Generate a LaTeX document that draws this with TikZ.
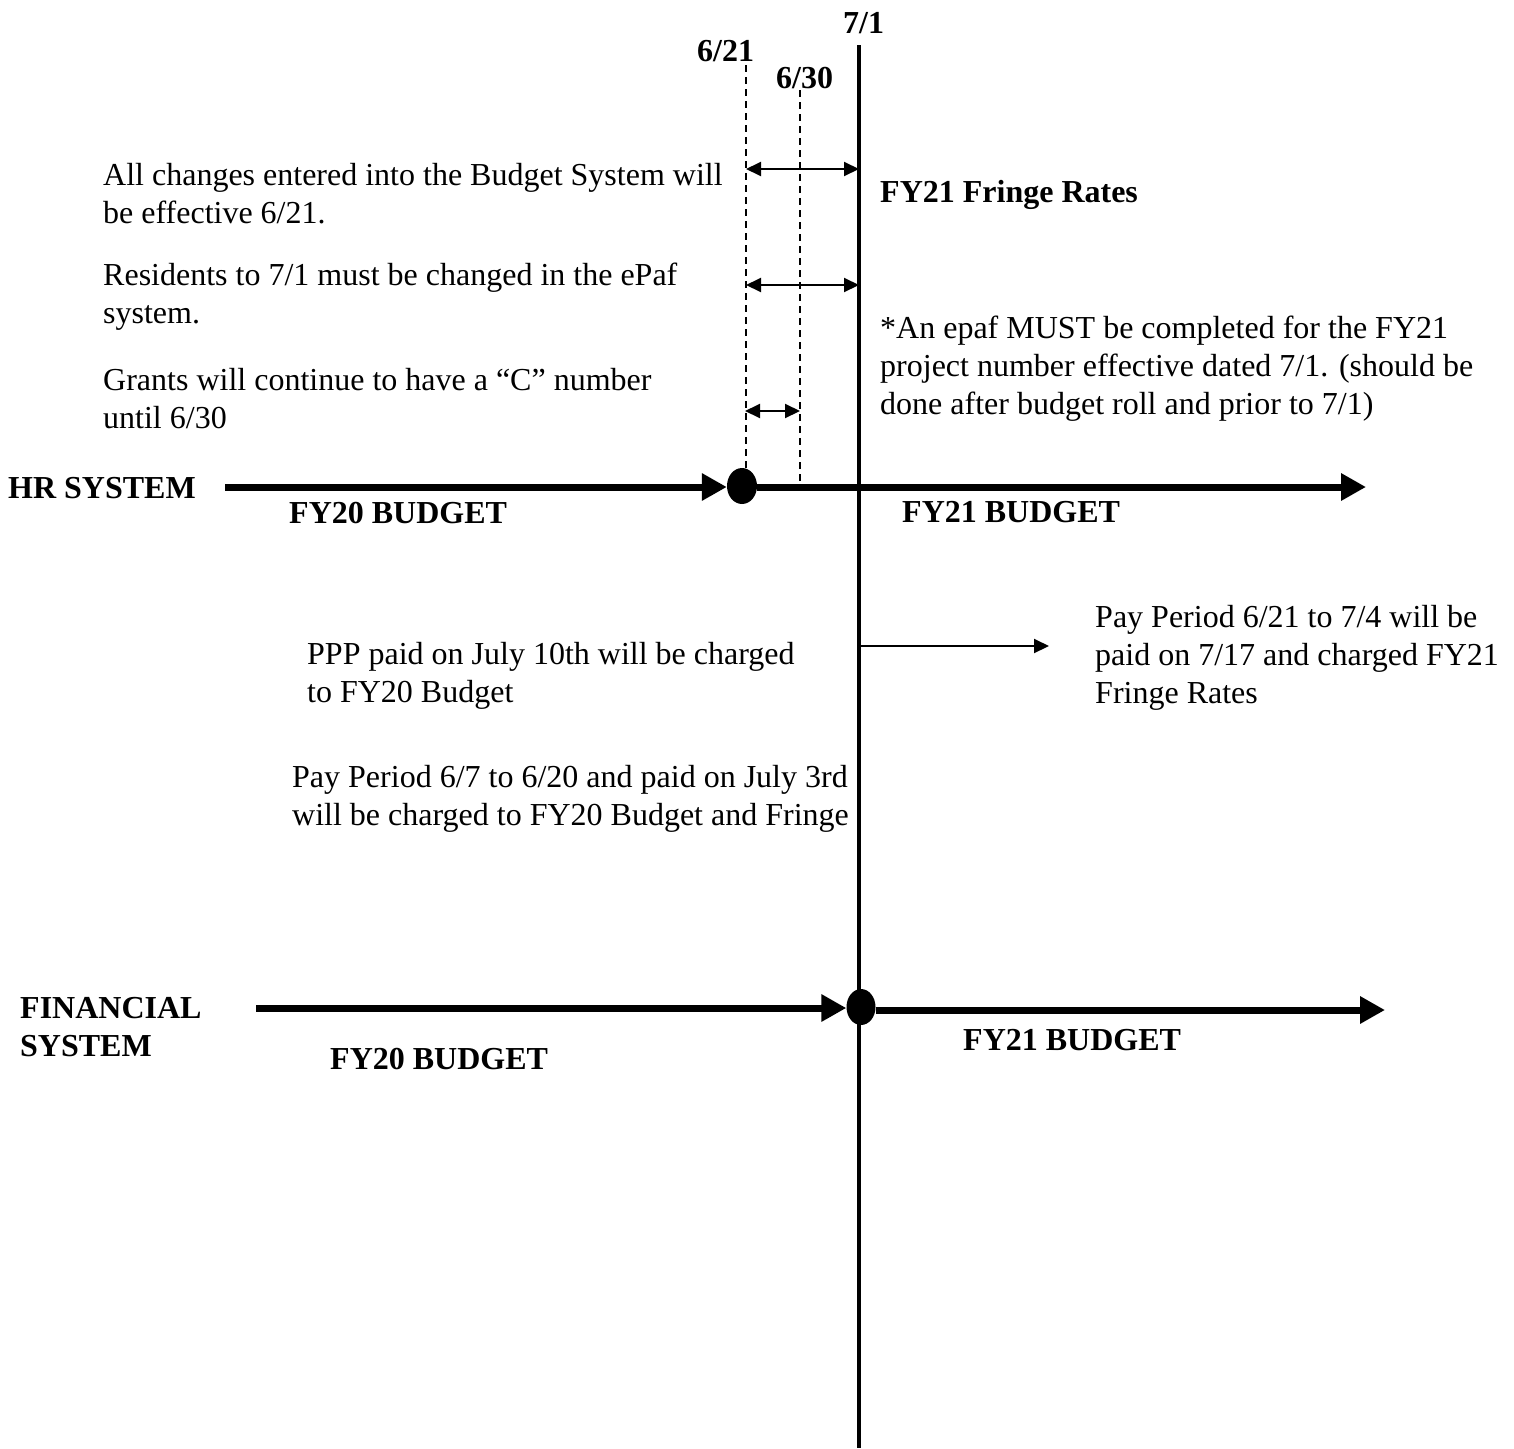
\documentclass[tikz,border=0pt]{standalone}
\usepackage{fontspec}
\setmainfont{Liberation Serif}
\usetikzlibrary{arrows.meta,shapes.geometric}
\begin{document}
\begin{tikzpicture}[x=1pt,y=-1pt,
  txt/.style={font=\fontsize{32}{38}\selectfont, inner sep=0pt, anchor=base west, align=left},
  btxt/.style={inner sep=0pt, anchor=base west, align=left, font=\fontsize{32}{38}\selectfont\bfseries},
  dot/.style={ellipse, fill=black, draw=none, minimum width=30pt, minimum height=36pt, inner sep=0pt},
  mainline/.style={line width=4.5pt},
  dashline/.style={line width=2pt, dash pattern=on 7pt off 5pt},
  thickarrow/.style={line width=7pt, -{Triangle[length=25pt,width=26pt]}},
  dblarrow/.style={line width=2pt, {Triangle[length=15pt,width=14pt]}-{Triangle[length=15pt,width=14pt]}},
  thinarrow/.style={line width=2pt, -{Triangle[length=15pt,width=14pt]}}
]
\useasboundingbox (0,0) rectangle (1514,1448);
\fill[white] (0,0) rectangle (1514,1448);

% dates
\node[btxt] (d71) at (843,33) {7/1};
\node[btxt] (d621) at (697,61) {6/21};
\node[btxt] (d630) at (776,88) {6/30};

% dots
\node[dot] (hrdot) at (742,486) {};
\node[dot, minimum width=29pt, minimum height=36pt] (findot) at (861,1007) {};

% main vertical line
\coordinate (vtop) at (859,45);
\coordinate (vbot) at (859,1448);
\draw[mainline] (vtop) -- (vbot);

% dashed lines
\coordinate (a621) at (746,65);
\coordinate (a630) at (800,90);
\coordinate (b630) at (800,484);
\draw[dashline] (a621) -- (a621 |- hrdot.north);
\draw[dashline] (a630) -- (b630);

% double arrows
\coordinate (r1l) at (746,169); \coordinate (r1r) at (859,169);
\coordinate (r2l) at (746,285); \coordinate (r2r) at (859,285);
\coordinate (r3l) at (745,411); \coordinate (r3r) at (800,411);
\draw[dblarrow] (r1l) -- (r1r);
\draw[dblarrow] (r2l) -- (r2r);
\draw[dblarrow] (r3l) -- (r3r);

% HR timeline
\coordinate (hrstart) at (225,487);
\coordinate (hrend) at (1366,487);
\draw[thickarrow] (hrstart) -- (hrdot.west |- hrstart);
\draw[thickarrow] (hrdot.east |- hrstart) -- (hrend);

% Financial timeline
\coordinate (finstart) at (256,1008);
\coordinate (finend) at (1385,1010);
\draw[thickarrow] (finstart) -- (findot.west |- finstart);
\draw[thickarrow] (findot.east |- finend) -- (finend);

% thin arrow
\coordinate (pstart) at (859,646);
\coordinate (pend) at (1049,646);
\draw[thinarrow] (pstart) -- (pend);

% texts (anchor = baseline of the last line)
\node[txt] (t1) at (103,223) {All changes entered into the Budget System will\\be effective 6/21.};
\node[txt] (t2) at (103,323) {Residents to 7/1 must be changed in the ePaf\\system.};
\node[txt] (t3) at (103,428) {Grants will continue to have a “C” number\\until 6/30};
\node[btxt] (fr) at (880,202) {FY21 Fringe Rates};
\node[txt] (t4) at (880,414) {*An epaf MUST be completed for the FY21\\project number effective dated 7/1. (should be\\done after budget roll and prior to 7/1)};
\node[btxt] (hrl) at (8,498) {HR SYSTEM};
\node[btxt] (hr20) at (289,523) {FY20 BUDGET};
\node[btxt] (hr21) at (902,522) {FY21 BUDGET};
\node[txt] (t5) at (1095,703) {Pay Period 6/21 to 7/4 will be\\paid on 7/17 and charged FY21\\Fringe Rates};
\node[txt] (t6) at (307,702) {PPP paid on July 10th will be charged\\to FY20 Budget};
\node[txt] (t7) at (292,825) {Pay Period 6/7 to 6/20 and paid on July 3rd\\will be charged to FY20 Budget and Fringe};
\node[btxt] (finl) at (20,1056) {FINANCIAL\\SYSTEM};
\node[btxt] (fin20) at (330,1069) {FY20 BUDGET};
\node[btxt] (fin21) at (963,1050) {FY21 BUDGET};
\end{tikzpicture}
\end{document}
